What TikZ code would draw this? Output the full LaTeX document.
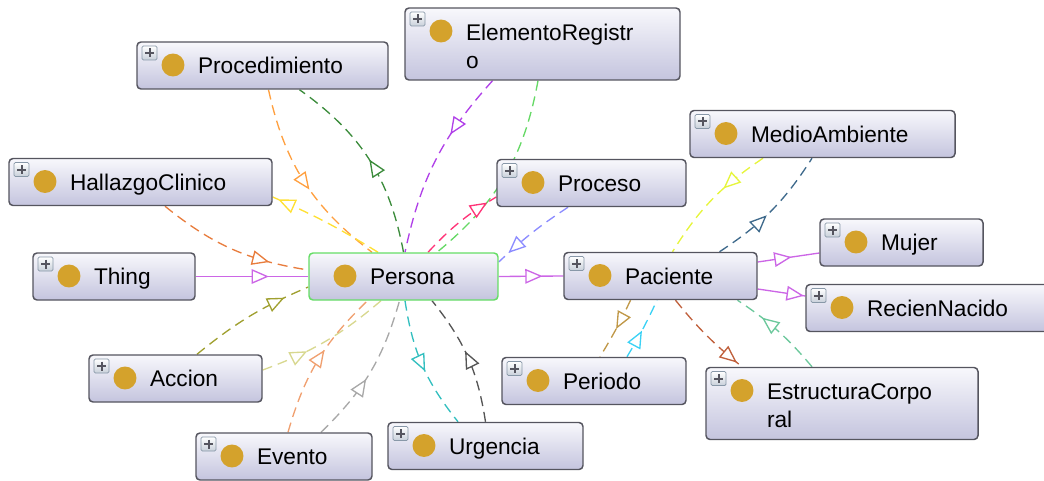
\documentclass[tikz,border=0pt]{standalone}
\usepackage{fontspec}
\setmainfont{Liberation Sans}
\usetikzlibrary{arrows.meta,decorations.markings,backgrounds}

\definecolor{boxline}{HTML}{55555F}
\definecolor{boxtop}{HTML}{F8F8FC}
\definecolor{boxbot}{HTML}{C4C4DE}
\definecolor{focusline}{HTML}{66DD66}
\definecolor{dotcol}{HTML}{D4A22C}
\definecolor{plusline}{HTML}{8898A8}
\definecolor{plusbot}{HTML}{C8D0DA}
\definecolor{cProc}{HTML}{FFA040}
\definecolor{cGreen}{HTML}{3C8C3C}
\definecolor{cPurple}{HTML}{B040E8}
\definecolor{cLgreen}{HTML}{66D966}
\definecolor{cPink}{HTML}{FF3377}
\definecolor{cYellow}{HTML}{FFE033}
\definecolor{cSalmon}{HTML}{E87D3E}
\definecolor{cViolet}{HTML}{CC66E6}
\definecolor{cOlive}{HTML}{A0A030}
\definecolor{cKhaki}{HTML}{D8D890}
\definecolor{cPeach}{HTML}{F0A070}
\definecolor{cGray}{HTML}{A8A8A8}
\definecolor{cTeal}{HTML}{33BFBF}
\definecolor{cDgray}{HTML}{555555}
\definecolor{cPeri}{HTML}{8C8CFF}
\definecolor{cLime}{HTML}{E6F53C}
\definecolor{cNavy}{HTML}{3F6A8C}
\definecolor{cTan}{HTML}{C09848}
\definecolor{cCyan}{HTML}{3CD2F5}
\definecolor{cBrown}{HTML}{C0603C}
\definecolor{cSea}{HTML}{6CC89C}

\newcommand\clsdot{\fill[dotcol] ([shift={(36,23)}]path picture bounding box.north west) circle (8.6pt);}
\newcommand\clsplus{%
  \draw[plusbox] ([shift={(5,4)}]path picture bounding box.north west) rectangle ++(15,14);
  \draw[line width=1.5pt, rounded corners=0pt] ([shift={(8,11)}]path picture bounding box.north west) -- ++(9,0)
    ([shift={(12.5,6.5)}]path picture bounding box.north west) -- ++(0,9);}

\tikzset{
  plusbox/.style={draw=plusline, line width=0.6pt, rounded corners=1pt, top color=white, bottom color=plusbot},
  cls/.style={draw=boxline, line width=1.1pt, rounded corners=3pt, top color=boxtop, bottom color=boxbot,
    inner xsep=32.25pt, inner ysep=0pt, minimum height=35.25pt, align=left,
    text height=14pt, text depth=1.8pt, font=\fontsize{17}{21}\selectfont,
    execute at begin node={\leftskip=13.5pt\hyphenpenalty=10000},
    path picture={\clsdot\clsplus}},
  twoline/.style={minimum height=54pt, text depth=19.8pt},
  focus/.style={draw=focusline, path picture={\clsdot}},
  rel/.style={dash pattern=on 7.5pt off 4.5pt, line width=1pt},
  isa/.style={line width=1pt},
  midtip/.style={postaction={decorate}, decoration={markings,
    mark=at position #1 with {\arrow{Triangle[length=13pt,width=11pt,fill=white]}}}}
}

\begin{document}
\begin{tikzpicture}[x=0.75pt, y=-0.75pt]
  \useasboundingbox (0,0) rectangle (1044,481);
  \node[cls, twoline, text width=141.75pt] (elem) at (542.5,44) {ElementoRegistr\\o};
  \node[cls, text width=123.75pt] (proc) at (262.5,65.5) {Procedimiento};
  \node[cls, text width=134.25pt] (medio) at (822.5,134) {MedioAmbiente};
  \node[cls, text width=132.75pt] (hall) at (140.5,182) {HallazgoClinico};
  \node[cls, text width=77.25pt] (proce) at (591.5,183) {Proceso};
  \node[cls, text width=57.75pt] (mujer) at (901.5,242.5) {Mujer};
  \node[cls, text width=57pt] (thing) at (114,276.5) {Thing};
  \node[cls, focus, text width=77.25pt] (pers) at (403.5,276.5) {Persona};
  \node[cls, text width=80.25pt] (pac) at (660.5,276) {Paciente};
  \node[cls, text width=121.5pt] (recien) at (930,308) {RecienNacido};
  \node[cls, text width=65.25pt] (accion) at (175.5,378.5) {Accion};
  \node[cls, text width=73.5pt] (periodo) at (594,381) {Periodo};
  \node[cls, twoline, text width=139.5pt] (estr) at (842,403.5) {EstructuraCorpo\\ral};
  \node[cls, text width=81.75pt] (urg) at (485.5,446) {Urgencia};
  \node[cls, text width=67.5pt] (evento) at (284,456.5) {Evento};

  \begin{scope}[on background layer]
    \draw[rel, cProc, midtip=.55] ([shift={(6,0)}]proc.south) to[bend right=20] ([shift={(-31.5,0)}]pers.north);
    \draw[rel, cGreen, midtip=.5] (pers.north) to[bend right=22] ([shift={(37,0)}]proc.south);
    \draw[rel, cPurple, midtip=.35] ([shift={(-50,0)}]elem.south) to[bend right=15] ([shift={(1.5,0)}]pers.north);
    \draw[rel, cLgreen, midtip=.57] ([shift={(-4.5,0)}]elem.south) to[bend left=20] ([shift={(33.5,0)}]pers.north);
    \draw[rel, cPink, midtip=.88] ([shift={(24.5,0)}]pers.north) to[bend left=8] ([shift={(0,14)}]proce.west);
    \draw[rel, cYellow, midtip=.95] ([shift={(-25.5,0)}]pers.north) to[bend right=4] ([shift={(0,15)}]hall.east);
    \draw[rel, cSalmon, midtip=.75] ([shift={(24.5,0)}]hall.south) to[bend right=15] ([shift={(0,-6.5)}]pers.west);
    \draw[isa, cViolet, midtip=.65] (thing.east) -- (pers.west);
    \draw[rel, cOlive, midtip=.8] ([shift={(21.5,0)}]accion.north) to[bend left=8] ([shift={(0,10.5)}]pers.west);
    \draw[rel, cKhaki, midtip=.35] ([shift={(0,-8.5)}]accion.east) to[bend right=10] ([shift={(-22.5,0)}]pers.south);
    \draw[rel, cPeach, midtip=.58] ([shift={(4,0)}]evento.north) to[bend left=15] ([shift={(-36,0)}]pers.south);
    \draw[rel, cGray, midtip=.45] ([shift={(37,0)}]evento.north) to[bend right=15] ([shift={(-4,0)}]pers.south);
    \draw[rel, cTeal, midtip=.55] ([shift={(1.5,0)}]pers.south) to[bend right=15] ([shift={(-27.5,0)}]urg.north);
    \draw[rel, cDgray, midtip=.55] (urg.north) to[bend right=15] ([shift={(28.5,0)}]pers.south);
    \draw[rel, cPeri, midtip=.85] ([shift={(-23.5,0)}]proce.south) to[bend right=5] ([shift={(0,-14.5)}]pers.east);
    \draw[isa, cViolet, midtip=.68] (pers.east) -- (pac.west);
    \draw[rel, cLime, midtip=.38] ([shift={(-59.5,0)}]medio.south) to[bend right=12] ([shift={(12,0)}]pac.north);
    \draw[rel, cNavy, midtip=.45] ([shift={(59,0)}]pac.north) to[bend right=12] ([shift={(-10.5,0)}]medio.south);
    \draw[isa, cViolet, midtip=.55] ([shift={(0,-14)}]pac.east) -- ([shift={(0,10.5)}]mujer.west);
    \draw[isa, cViolet, midtip=.97] ([shift={(0,13)}]pac.east) -- ([shift={(0,-12)}]recien.west);
    \draw[rel, cTan, midtip=.5] ([shift={(-30,0)}]pac.south) to[bend left=3] ([shift={(6,0)}]periodo.north);
    \draw[rel, cCyan, midtip=.47] ([shift={(33,0)}]periodo.north) to[bend right=3] ([shift={(-3.5,0)}]pac.south);
    \draw[rel, cBrown, midtip=.93] ([shift={(15,0)}]pac.south) to[bend right=6] ([shift={(-100,0)}]estr.north);
    \draw[rel, cSea, midtip=.7] ([shift={(-30,0)}]estr.north) to[bend right=8] ([shift={(77,0)}]pac.south);
  \end{scope}
\end{tikzpicture}
\end{document}
